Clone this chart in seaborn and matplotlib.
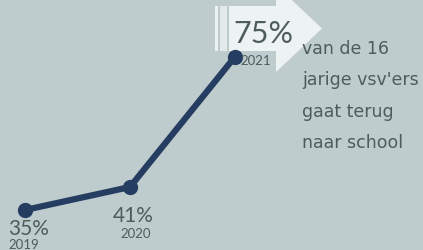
import matplotlib
matplotlib.use('Agg')
import matplotlib.pyplot as plt
from matplotlib.patches import Polygon, Rectangle
import seaborn as sns
import pandas as pd

# data
years = [2019, 2020, 2021]
values = [35, 41, 75]
value_labels = ['35%', '41%', '75%']
year_labels = ['2019', '2020', '2021']
caption = "van de 16\njarige vsv'ers\ngaat terug\nnaar school"

bg = '#bfcccd'
line_col = '#253d60'
text_col = '#4f5c5e'
arrow_col = '#edf2f2'

sns.set_style('white')
plt.rcParams['font.family'] = ['Lato', 'DejaVu Sans']

df = pd.DataFrame({'year': years, 'value': values})

fig = plt.figure(figsize=(4.23, 2.51), dpi=100, facecolor=bg)
ax = fig.add_axes([0, 0, 1, 1])
ax.set_facecolor(bg)

W, H = 423, 251
# arrow decoration in pixel coords (top-left origin)
def px(x, y):
    return (x / W, 1 - y / H)

ax.add_patch(Rectangle(px(215, 52), 3 / W, 45 / H, transform=ax.transAxes,
                       color=arrow_col, lw=0, zorder=1))
ax.add_patch(Rectangle(px(220, 52), 7 / W, 45 / H, transform=ax.transAxes,
                       color=arrow_col, lw=0, alpha=0.8, zorder=1))
arrow = [px(229, 7), px(276, 7), px(276, -14), px(322, 29.5),
         px(276, 73), px(276, 52), px(229, 52)]
ax.add_patch(Polygon(arrow, closed=True, transform=ax.transAxes,
                     color=arrow_col, lw=0, zorder=1))

sns.lineplot(data=df, x='year', y='value', ax=ax, color=line_col, lw=4.5,
             marker='o', markersize=11, markeredgewidth=0, zorder=3)

# scale so points land where they are in the picture
ax.set_xlim(2019 - 25 / 105, 2019 + 398 / 105)
ax.set_ylim(35 - 40 / 3.833, 35 + 211 / 3.833)

# value labels (offsets in pixels from each point, baseline aligned)
val_offsets = [(-17, -24), (-17, -34), (-2, 15)]
val_sizes = [15, 15, 22]
yr_offsets = [(-17, -38), (-10, -50), (5, -7)]
for i in range(len(years)):
    ax.annotate(value_labels[i], (years[i], values[i]), xytext=val_offsets[i],
                textcoords='offset pixels', ha='left', va='baseline',
                fontsize=val_sizes[i], color=text_col, zorder=4)
    ax.annotate(year_labels[i], (years[i], values[i]), xytext=yr_offsets[i],
                textcoords='offset pixels', ha='left', va='baseline',
                fontsize=9.5, color=text_col, zorder=4)

ax.text(302 / W, 1 - 40 / H, caption, transform=ax.transAxes, ha='left', va='top',
        fontsize=12.5, color=text_col, linespacing=1.95, family='DejaVu Sans')

ax.set_axis_off()
plt.savefig('out.png', dpi=100, facecolor=bg)
